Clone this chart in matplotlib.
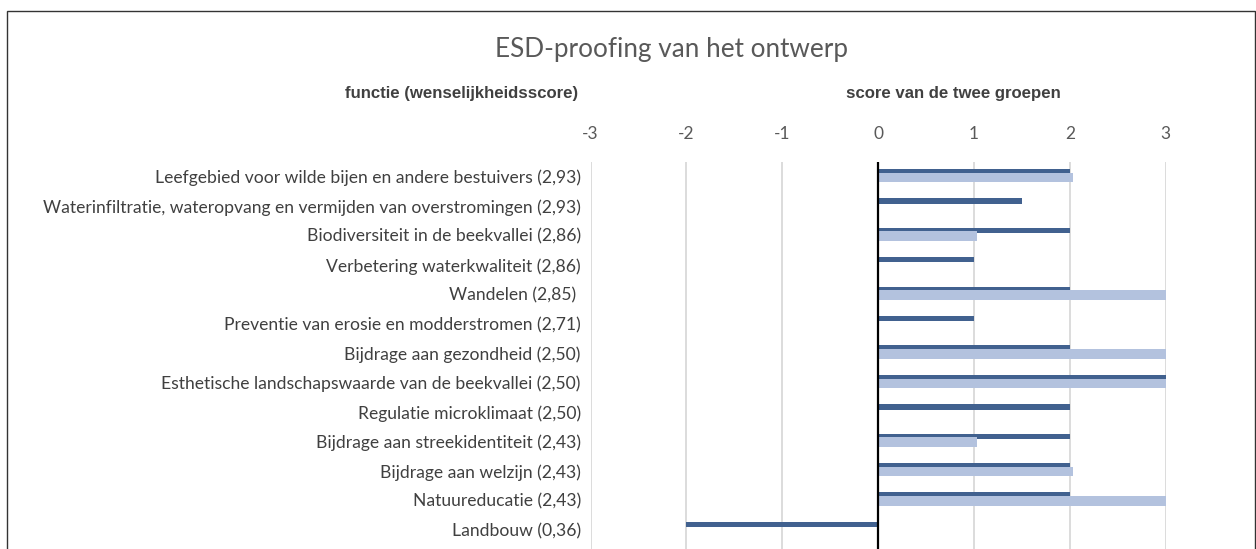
import matplotlib; matplotlib.use('Agg')
import numpy as np
from matplotlib import pyplot as plt
from matplotlib import transforms
from matplotlib.patches import Rectangle

plt.rcParams.update({
    'font.family': ['Lato', 'DejaVu Sans'],
})

DARK = '#41618f'   # groep 1
LIGHT = '#b3c2de'  # groep 2
GREY = '#595959'

functies = [
    'Leefgebied voor wilde bijen en andere bestuivers (2,93)',
    'Waterinfiltratie, wateropvang en vermijden van overstromingen (2,93)',
    'Biodiversiteit in de beekvallei (2,86)',
    'Verbetering waterkwaliteit (2,86)',
    'Wandelen (2,85) ',
    'Preventie van erosie en modderstromen (2,71)',
    'Bijdrage aan gezondheid (2,50)',
    'Esthetische landschapswaarde van de beekvallei (2,50)',
    'Regulatie microklimaat (2,50)',
    'Bijdrage aan streekidentiteit (2,43)',
    'Bijdrage aan welzijn (2,43)',
    'Natuureducatie (2,43)',
    'Landbouw (0,36)',
]
groep1 = [2, 1.5, 2, 1, 2, 1, 2, 3, 2, 2, 2, 2, -2]
groep2 = [2.03, 0, 1.03, 0, 3, 0, 3, 3, 0, 1.03, 2.03, 3, 0]
xticks = [-3, -2, -1, 0, 1, 2, 3]

fig = plt.figure(figsize=(12.56, 5.49), dpi=100)
ax = fig.add_axes([0.4702, 0.0, 0.4579, 0.7054])

y = np.arange(len(functies))
ax.barh(y - 0.17, groep1, height=0.18, color=DARK, zorder=2)
ax.barh(y + 0.03, groep2, height=0.32, color=LIGHT, zorder=3)

ax.set_xlim(-3, 3)
ax.set_ylim(12.66, -0.5)
ax.set_xticks(xticks)
ax.xaxis.tick_top()
ax.tick_params(axis='x', length=0, pad=14, labelsize=12.5, labelcolor=GREY)
ax.set_xticklabels([str(t) for t in xticks])
ax.set_yticks(y)
ax.set_yticklabels(functies)
ax.tick_params(axis='y', length=0, pad=7, labelsize=12.65, labelcolor='#404040')
ax.grid(axis='x', color='#d9d9d9', lw=1.3, zorder=0)
ax.set_axisbelow(True)
for s in ax.spines.values():
    s.set_visible(False)
ax.axvline(0, color='black', lw=1.6, zorder=4)

fig.text(0.5346, 0.909, 'ESD-proofing van het ontwerp', ha='center',
         va='center', fontsize=18.8, color=GREY)
fig.text(578 / 1256, 0.8306, 'functie (wenselijkheidsscore)', ha='right',
         va='center', fontsize=12.1, color='#404040', weight='bold',
         family='Liberation Sans')
fig.text(953 / 1256, 0.8306, 'score van de twee groepen', ha='center',
         va='center', fontsize=12.1, color='#404040', weight='bold',
         family='Liberation Sans')

# chart border
fig.patches.append(Rectangle((7 / 1256, -0.05), 1248 / 1256, 1.05 - 11 / 549,
                             transform=fig.transFigure, fill=False,
                             edgecolor='#333333', lw=1.0))

plt.savefig('out.png', dpi=100)
plt.close()
